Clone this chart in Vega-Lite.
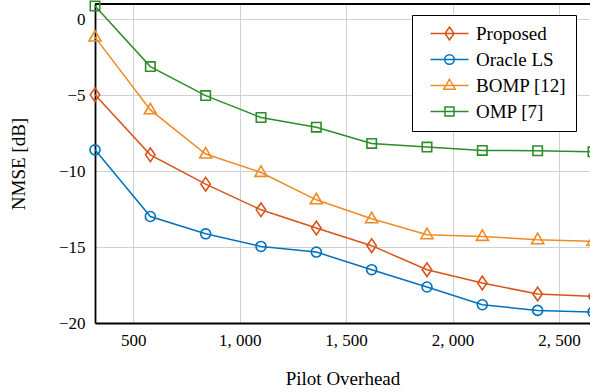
{
  "$schema": "https://vega.github.io/schema/vega-lite/v6.json",
  "width": 495,
  "height": 319,
  "autosize": {"type": "none"},
  "padding": {"left": 95, "top": 4, "right": 0, "bottom": 69},
  "background": "white",
  "config": {
    "view": {"stroke": null},
    "font": "Liberation Serif",
    "style": {
      "guide-label": {"font": "Liberation Serif", "fill": "black"},
      "guide-title": {"font": "Liberation Serif", "fill": "black"}
    },
    "axis": {
      "labelFont": "Liberation Serif",
      "titleFont": "Liberation Serif",
      "labelColor": "black",
      "titleColor": "black",
      "titleFontWeight": "normal",
      "gridColor": "#cccccc",
      "gridWidth": 0.9,
      "domainColor": "black",
      "domainWidth": 1.8,
      "ticks": false
    },
    "legend": {
      "labelFont": "Liberation Serif"
    }
  },
  "datasets": {
    "series": [
      {"overhead": 320, "nmse": -4.98, "method": "Proposed"},
      {"overhead": 580, "nmse": -8.93, "method": "Proposed"},
      {"overhead": 840, "nmse": -10.86, "method": "Proposed"},
      {"overhead": 1100, "nmse": -12.55, "method": "Proposed"},
      {"overhead": 1360, "nmse": -13.75, "method": "Proposed"},
      {"overhead": 1620, "nmse": -14.91, "method": "Proposed"},
      {"overhead": 1880, "nmse": -16.49, "method": "Proposed"},
      {"overhead": 2140, "nmse": -17.37, "method": "Proposed"},
      {"overhead": 2400, "nmse": -18.09, "method": "Proposed"},
      {"overhead": 2660, "nmse": -18.25, "method": "Proposed"},
      {"overhead": 320, "nmse": -8.6, "method": "Oracle LS"},
      {"overhead": 580, "nmse": -12.99, "method": "Oracle LS"},
      {"overhead": 840, "nmse": -14.13, "method": "Oracle LS"},
      {"overhead": 1100, "nmse": -14.96, "method": "Oracle LS"},
      {"overhead": 1360, "nmse": -15.33, "method": "Oracle LS"},
      {"overhead": 1620, "nmse": -16.49, "method": "Oracle LS"},
      {"overhead": 1880, "nmse": -17.63, "method": "Oracle LS"},
      {"overhead": 2140, "nmse": -18.8, "method": "Oracle LS"},
      {"overhead": 2400, "nmse": -19.17, "method": "Oracle LS"},
      {"overhead": 2660, "nmse": -19.28, "method": "Oracle LS"},
      {"overhead": 320, "nmse": -1.18, "method": "BOMP [12]"},
      {"overhead": 580, "nmse": -5.97, "method": "BOMP [12]"},
      {"overhead": 840, "nmse": -8.88, "method": "BOMP [12]"},
      {"overhead": 1100, "nmse": -10.09, "method": "BOMP [12]"},
      {"overhead": 1360, "nmse": -11.89, "method": "BOMP [12]"},
      {"overhead": 1620, "nmse": -13.14, "method": "BOMP [12]"},
      {"overhead": 1880, "nmse": -14.19, "method": "BOMP [12]"},
      {"overhead": 2140, "nmse": -14.3, "method": "BOMP [12]"},
      {"overhead": 2400, "nmse": -14.52, "method": "BOMP [12]"},
      {"overhead": 2660, "nmse": -14.63, "method": "BOMP [12]"},
      {"overhead": 320, "nmse": 0.87, "method": "OMP [7]"},
      {"overhead": 580, "nmse": -3.12, "method": "OMP [7]"},
      {"overhead": 840, "nmse": -5.03, "method": "OMP [7]"},
      {"overhead": 1100, "nmse": -6.47, "method": "OMP [7]"},
      {"overhead": 1360, "nmse": -7.11, "method": "OMP [7]"},
      {"overhead": 1620, "nmse": -8.18, "method": "OMP [7]"},
      {"overhead": 1880, "nmse": -8.42, "method": "OMP [7]"},
      {"overhead": 2140, "nmse": -8.64, "method": "OMP [7]"},
      {"overhead": 2400, "nmse": -8.66, "method": "OMP [7]"},
      {"overhead": 2660, "nmse": -8.73, "method": "OMP [7]"}
    ],
    "border": [{"top": 1}]
  },
  "encoding": {
    "x": {
      "field": "overhead", "type": "quantitative",
      "scale": {"domain": [320, 2646], "nice": false, "zero": false},
      "axis": {
        "title": "Pilot Overhead",
        "values": [500, 1000, 1500, 2000, 2500],
        "labelExpr": "replace(format(datum.value, ','), ',', ', ')",
        "labelFont": "Liberation Serif",
        "labelFontSize": 17,
        "labelPadding": 9,
        "titleFontSize": 19,
        "titlePadding": 21
      }
    },
    "y": {
      "field": "nmse", "type": "quantitative",
      "scale": {"domain": [-20, 1], "nice": false, "zero": false},
      "axis": {
        "title": "NMSE [dB]",
        "values": [-20, -15, -10, -5, 0],
        "labelFont": "Liberation Serif",
        "labelFontSize": 17,
        "labelPadding": 10,
        "titleFontSize": 19,
        "titleX": -77,
        "titleY": 159.5,
        "titleAngle": -90,
        "titleAlign": "center",
        "titleBaseline": "middle"
      }
    },
    "color": {
      "field": "method", "type": "nominal", "title": null,
      "scale": {"domain": ["Proposed", "Oracle LS", "BOMP [12]", "OMP [7]"],
                "range": ["#D95319", "#0072BD", "#F08A24", "#2B8C2B"]}
    }
  },
  "layer": [
    {
      "data": {"name": "border"},
      "mark": {"type": "rule", "color": "black", "strokeWidth": 1.8},
      "encoding": {
        "x": null,
        "color": null,
        "y": {"field": "top", "type": "quantitative"}
      }
    },
    {
      "data": {"name": "series"},
      "mark": {"type": "line", "strokeWidth": 1.5}
    },
    {
      "data": {"name": "series"},
      "mark": {"type": "point", "filled": false, "size": 0, "strokeWidth": 1.5, "opacity": 1},
      "encoding": {
        "color": {
          "field": "method", "type": "nominal", "title": null,
          "legend": {
            "orient": "none",
            "legendX": 317,
            "legendY": 11,
            "padding": 9,
            "strokeColor": "black",
            "fillColor": "white",
            "cornerRadius": 0,
            "labelFont": "Liberation Serif",
            "labelFontSize": 19,
            "labelColor": "black",
            "labelExpr": "datum.label + '\u00a0\u00a0\u00a0\u00a0\u00a0'",
            "symbolSize": 100,
            "symbolOpacity": 1,
            "symbolStrokeWidth": 1.5,
            "symbolFillColor": "transparent",
            "symbolOffset": 19,
            "labelOffset": 17,
            "rowPadding": 6
          }
        },
        "shape": {
          "field": "method", "type": "nominal", "title": null,
          "legend": {
            "orient": "none",
            "legendX": 317,
            "legendY": 11,
            "padding": 9,
            "strokeColor": "black",
            "fillColor": "white",
            "cornerRadius": 0,
            "labelFont": "Liberation Serif",
            "labelFontSize": 19,
            "labelColor": "black",
            "labelExpr": "datum.label + '\u00a0\u00a0\u00a0\u00a0\u00a0'",
            "symbolSize": 100,
            "symbolOpacity": 1,
            "symbolStrokeWidth": 1.5,
            "symbolFillColor": "transparent",
            "symbolOffset": 19,
            "labelOffset": 17,
            "rowPadding": 6
          },
          "scale": {"domain": ["Proposed", "Oracle LS", "BOMP [12]", "OMP [7]"],
                    "range": ["M-3.8,0H3.8M0,-1.3L0.9,0L0,1.3L-0.9,0Z", "M-3.8,0H3.8M0.95,0C0.95,0.525,0.525,0.95,0,0.95C-0.525,0.95,-0.95,0.525,-0.95,0C-0.95,-0.525,-0.525,-0.95,0,-0.95C0.525,-0.95,0.95,-0.525,0.95,0Z", "M-3.8,0H3.8M0,-1.25L1.15,0.75L-1.15,0.75Z", "M-3.8,0H3.8M-0.9,-0.9H0.9V0.9H-0.9Z"]}
        }
      }
    },
    {
      "data": {"name": "series"},
      "transform": [{"filter": "datum.method === 'Proposed'"}],
      "mark": {"type": "point", "filled": false, "size": 110, "strokeWidth": 1.6, "opacity": 1, "shape": "M0,-1.3L0.9,0L0,1.3L-0.9,0Z"}
    },
    {
      "data": {"name": "series"},
      "transform": [{"filter": "datum.method === 'Oracle LS'"}],
      "mark": {"type": "point", "filled": false, "size": 110, "strokeWidth": 1.6, "opacity": 1, "shape": "M0.95,0C0.95,0.525,0.525,0.95,0,0.95C-0.525,0.95,-0.95,0.525,-0.95,0C-0.95,-0.525,-0.525,-0.95,0,-0.95C0.525,-0.95,0.95,-0.525,0.95,0Z"}
    },
    {
      "data": {"name": "series"},
      "transform": [{"filter": "datum.method === 'BOMP [12]'"}],
      "mark": {"type": "point", "filled": false, "size": 110, "strokeWidth": 1.6, "opacity": 1, "shape": "M0,-1.25L1.15,0.75L-1.15,0.75Z"}
    },
    {
      "data": {"name": "series"},
      "transform": [{"filter": "datum.method === 'OMP [7]'"}],
      "mark": {"type": "point", "filled": false, "size": 110, "strokeWidth": 1.6, "opacity": 1, "shape": "M-0.9,-0.9H0.9V0.9H-0.9Z"}
    }
  ]
}
